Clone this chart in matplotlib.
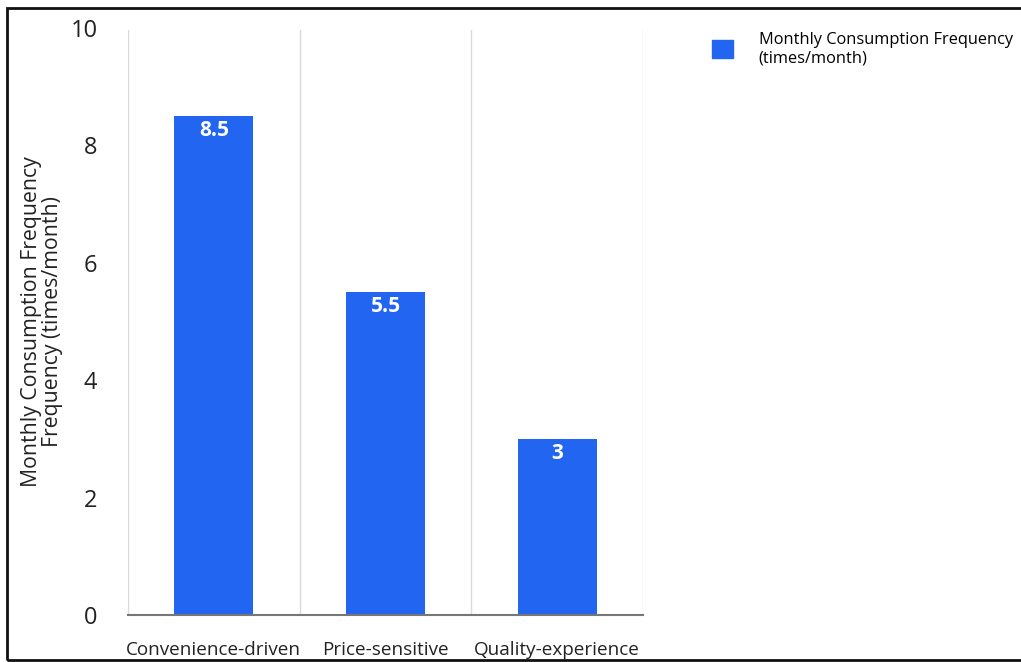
import matplotlib.pyplot as plt
from matplotlib.patches import Rectangle, Patch

plt.rcParams['font.family'] = ['Open Sans', 'DejaVu Sans']

# data
categories = ['Convenience-driven', 'Price-sensitive', 'Quality-experience']
frequency = [8.5, 5.5, 3]
value_labels = ['8.5', '5.5', '3']
series_name = 'Monthly Consumption Frequency\n(times/month)'

bar_color = '#2165F0'
grid_color = '#DADADA'

fig = plt.figure(figsize=(10.21, 6.62), dpi=100)
ax = fig.add_axes([0.1254, 0.0710, 0.5044, 0.8867])

x = list(range(len(categories)))
bars = ax.bar(x, frequency, width=0.46, color=bar_color, zorder=3)

for rect, lab in zip(bars, value_labels):
    ax.annotate(lab, xy=(rect.get_x() + rect.get_width() / 2, rect.get_height()),
                xytext=(0, -3), textcoords='offset points',
                ha='center', va='top', color='white', fontsize=15, fontweight='bold', zorder=4)

ax.set_xlim(-0.5, len(categories) - 0.5)
ax.set_ylim(0, 10)
ax.set_yticks([0, 2, 4, 6, 8, 10])
ax.set_xticks(x)
ax.set_xticklabels(categories, fontsize=13.6, color='#222222')
ax.tick_params(axis='y', length=0, pad=22, labelsize=17, labelcolor='#222222')
ax.tick_params(axis='x', length=0, pad=19)

# category separators
for b in [i - 0.5 for i in range(len(categories) + 1)]:
    ax.axvline(b, ymin=0, ymax=0.997, color=grid_color, linewidth=1, zorder=1)

for sp in ['top', 'right', 'left']:
    ax.spines[sp].set_visible(False)
ax.spines['bottom'].set_color('#777777')
ax.spines['bottom'].set_linewidth(1.5)
ax.spines['bottom'].set_zorder(5)

ax.set_ylabel('Monthly Consumption Frequency\nFrequency (times/month)', fontsize=15.3,
              color='#222222', linespacing=1.0, labelpad=5)

# legend
handle = Patch(facecolor=bar_color, edgecolor=bar_color)
fig.legend([handle], [series_name], loc='upper left', bbox_to_anchor=(0.691, 0.962),
           frameon=False, fontsize=11.8, handlelength=1.3, handleheight=1.3,
           handletextpad=1.55, labelspacing=0.25, borderaxespad=0)

# outer frame
fig.patches.append(Rectangle((0.007, 0.003), 1.2, 0.985, transform=fig.transFigure,
                             fill=False, edgecolor='#111111', linewidth=2, zorder=10))

fig.savefig('out.png', dpi=100)
